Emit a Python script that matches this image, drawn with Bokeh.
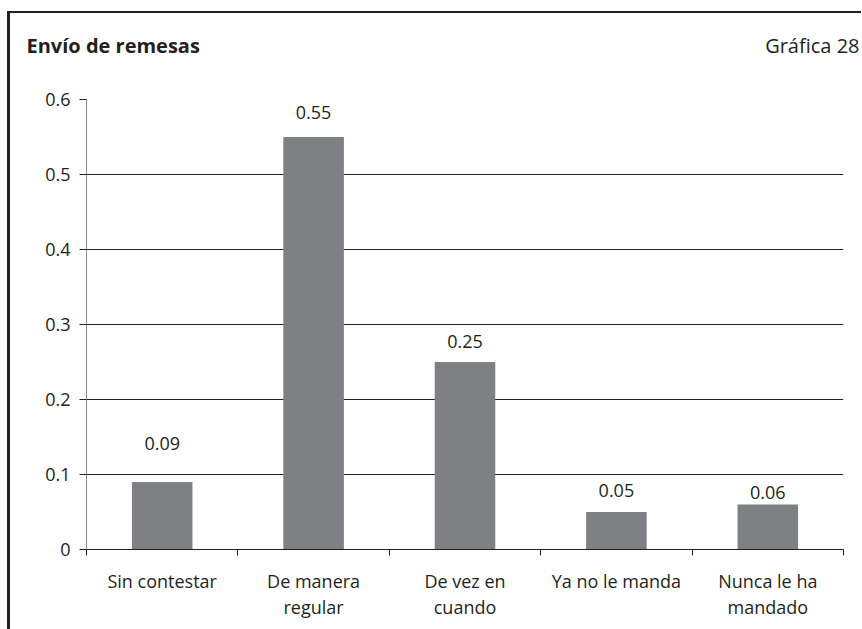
from bokeh.plotting import figure
from bokeh.layouts import column
from bokeh.models import Range1d, FixedTicker, Label, ColumnDataSource
from bokeh.core.properties import value
from bokeh.embed import file_html
from bokeh.resources import INLINE

# ---- data ----
categories = ["Sin contestar", "De manera\nregular", "De vez en\ncuando", "Ya no le manda", "Nunca le ha\nmandado"]
shares = [0.09, 0.55, 0.25, 0.05, 0.06]
value_labels = ["0.09", "0.55", "0.25", "0.05", "0.06"]
y_ticks = [0, 0.1, 0.2, 0.3, 0.4, 0.5, 0.6]
y_tick_labels = ["0", "0.1", "0.2", "0.3", "0.4", "0.5", "0.6"]
title_text = "Envío de remesas"
chart_no = "Gráfica 28"

# ---- style ----
INK = "#231f20"
BAR = "#7f8083"
FONT = "Open Sans"
label_lift_px = [39, 25, 21, 22, 12]

W = 851
HEAD_H = 60
MAIN_H = 556

# header strip with the title and the chart number
head = figure(width=W, height=HEAD_H, output_backend="svg", toolbar_location=None,
              x_axis_type=None, y_axis_type=None, x_range=Range1d(0, 1), y_range=Range1d(0, 1),
              min_border=0)
head.frame_align = False
head.outline_line_color = None
head.grid.grid_line_color = None
head.add_layout(Label(x=16, y=31.5, x_units="canvas", y_units="canvas", text=title_text,
                      text_font=FONT, text_font_style="bold", text_font_size="20px",
                      text_color=INK, text_baseline="alphabetic", text_align="left"))
head.add_layout(Label(x=849, y=31.5, x_units="canvas", y_units="canvas", text=chart_no,
                      text_font=FONT, text_font_size="20px",
                      text_color=INK, text_baseline="alphabetic", text_align="right"))

# main chart
p = figure(width=W, height=MAIN_H, output_backend="svg", toolbar_location=None,
           x_range=Range1d(0, len(categories)), y_range=Range1d(0, 0.6),
           min_border_left=76, min_border_right=18, min_border_top=26, min_border_bottom=80)
p.frame_align = False
p.outline_line_color = None
p.xgrid.grid_line_color = None
p.ygrid.grid_line_color = INK
p.ygrid.grid_line_width = 1
p.ygrid.ticker = FixedTicker(ticks=y_ticks)

xs = [i + 0.5 for i in range(len(categories))]
src = ColumnDataSource(dict(x=xs, top=shares, lab=value_labels,
                            dy=[-d for d in label_lift_px]))
p.vbar(x="x", top="top", bottom=0, width=0.4, source=src, fill_color=BAR, line_color=None)
p.text(x="x", y="top", text="lab", y_offset="dy", source=src, text_align="center",
       text_baseline="middle", text_font=value(FONT), text_font_size="18px", text_color=INK)

xa = p.xaxis[0]
xa.ticker = FixedTicker(ticks=xs, minor_ticks=list(range(len(categories) + 1)))
xa.major_label_overrides = {x: c for x, c in zip(xs, categories)}
xa.major_tick_line_color = None
xa.major_tick_out = 6
xa.major_tick_in = 0
xa.minor_tick_line_color = INK
xa.minor_tick_out = 6
xa.minor_tick_in = 0
xa.axis_line_color = INK
xa.major_label_text_font = FONT
xa.major_label_text_font_size = "18px"
xa.major_label_text_color = INK
xa.major_label_text_line_height = 1.1
xa.major_label_standoff = 13

ya = p.yaxis[0]
ya.ticker = FixedTicker(ticks=y_ticks)
ya.major_label_overrides = {t: s for t, s in zip(y_ticks, y_tick_labels)}
ya.axis_line_color = "#8a8a8a"
ya.major_tick_line_color = INK
ya.major_tick_out = 7
ya.major_tick_in = 0
ya.minor_tick_line_color = None
ya.major_label_text_font = FONT
ya.major_label_text_font_size = "18px"
ya.major_label_text_color = INK
ya.major_label_standoff = 9

page = column(head, p, spacing=0)
page.styles = {"margin-left": "7px", "margin-top": "11px",
               "border-top": "2px solid #231f20", "border-left": "3px solid #231f20"}

open("out.html", "w").write(file_html(page, INLINE))
